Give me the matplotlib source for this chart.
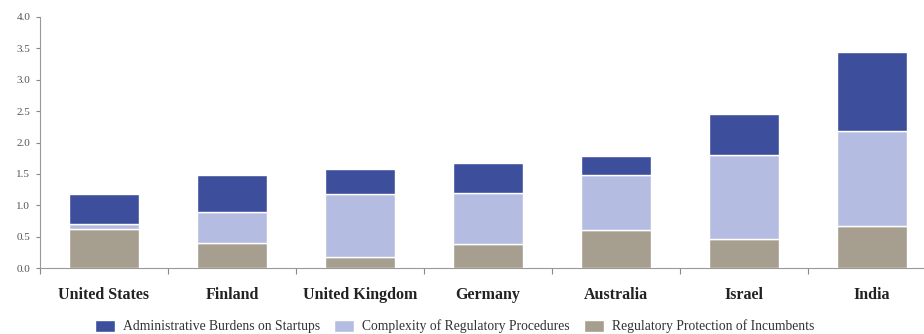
import matplotlib
matplotlib.use("Agg")
import matplotlib.pyplot as plt
import numpy as np

countries = ["United States", "Finland", "United Kingdom", "Germany",
             "Australia", "Israel", "India"]
protection = [0.62, 0.40, 0.18, 0.38, 0.60, 0.47, 0.67]
complexity = [0.08, 0.50, 1.00, 0.82, 0.88, 1.33, 1.52]
admin = [0.48, 0.58, 0.40, 0.48, 0.30, 0.66, 1.26]

series_names = ["Administrative Burdens on Startups",
                "Complexity of Regulatory Procedures",
                "Regulatory Protection of Incumbents"]
colors = {"admin": "#3d4f9c", "complexity": "#b5bce2", "protection": "#a69e8e"}

plt.rcParams["font.family"] = ["Liberation Serif", "DejaVu Serif"]

fig = plt.figure(figsize=(9.24, 3.34), dpi=100)
ax = fig.add_axes([40 / 924, 66 / 334, 896 / 924, 251 / 334])

x = np.arange(len(countries))
w = 0.55
prot = np.array(protection)
comp = np.array(complexity)
adm = np.array(admin)

b_prot = ax.bar(x, prot, w, color=colors["protection"], edgecolor="white", linewidth=1.0)
b_comp = ax.bar(x, comp, w, bottom=prot, color=colors["complexity"], edgecolor="white", linewidth=1.0)
b_adm = ax.bar(x, adm, w, bottom=prot + comp, color=colors["admin"], edgecolor="white", linewidth=1.0)

ax.set_xlim(-0.5, 6.5)
ax.set_ylim(0, 4.0)
ax.set_yticks(np.arange(0, 4.01, 0.5))
ax.set_yticklabels([f"{v:.1f}" for v in np.arange(0, 4.01, 0.5)],
                   fontsize=8, color="#555555")

ax.set_xticks(np.arange(-0.5, 6.6, 1.0), minor=False)
ax.set_xticklabels([])
ax.set_xticks(x, minor=True)
ax.set_xticklabels(countries, minor=True, fontsize=11.5, fontweight="bold", color="#222222")
ax.tick_params(axis="x", which="minor", length=0, pad=14)
ax.tick_params(axis="x", which="major", length=4, color="#888888", direction="out")
ax.tick_params(axis="y", length=3, color="#888888", pad=4)

for s in ["top", "right"]:
    ax.spines[s].set_visible(False)
for s in ["left", "bottom"]:
    ax.spines[s].set_color("#999999")
    ax.spines[s].set_linewidth(0.8)

handles = [b_adm, b_comp, b_prot]
fig.legend(handles, series_names, loc="lower center", bbox_to_anchor=(0.492, -0.035),
           ncol=3, frameon=False, fontsize=9.8, handlelength=1.5, handleheight=1.0,
           handletextpad=0.6, columnspacing=1.0, labelcolor="#333333")

fig.savefig("out.png", dpi=100)
